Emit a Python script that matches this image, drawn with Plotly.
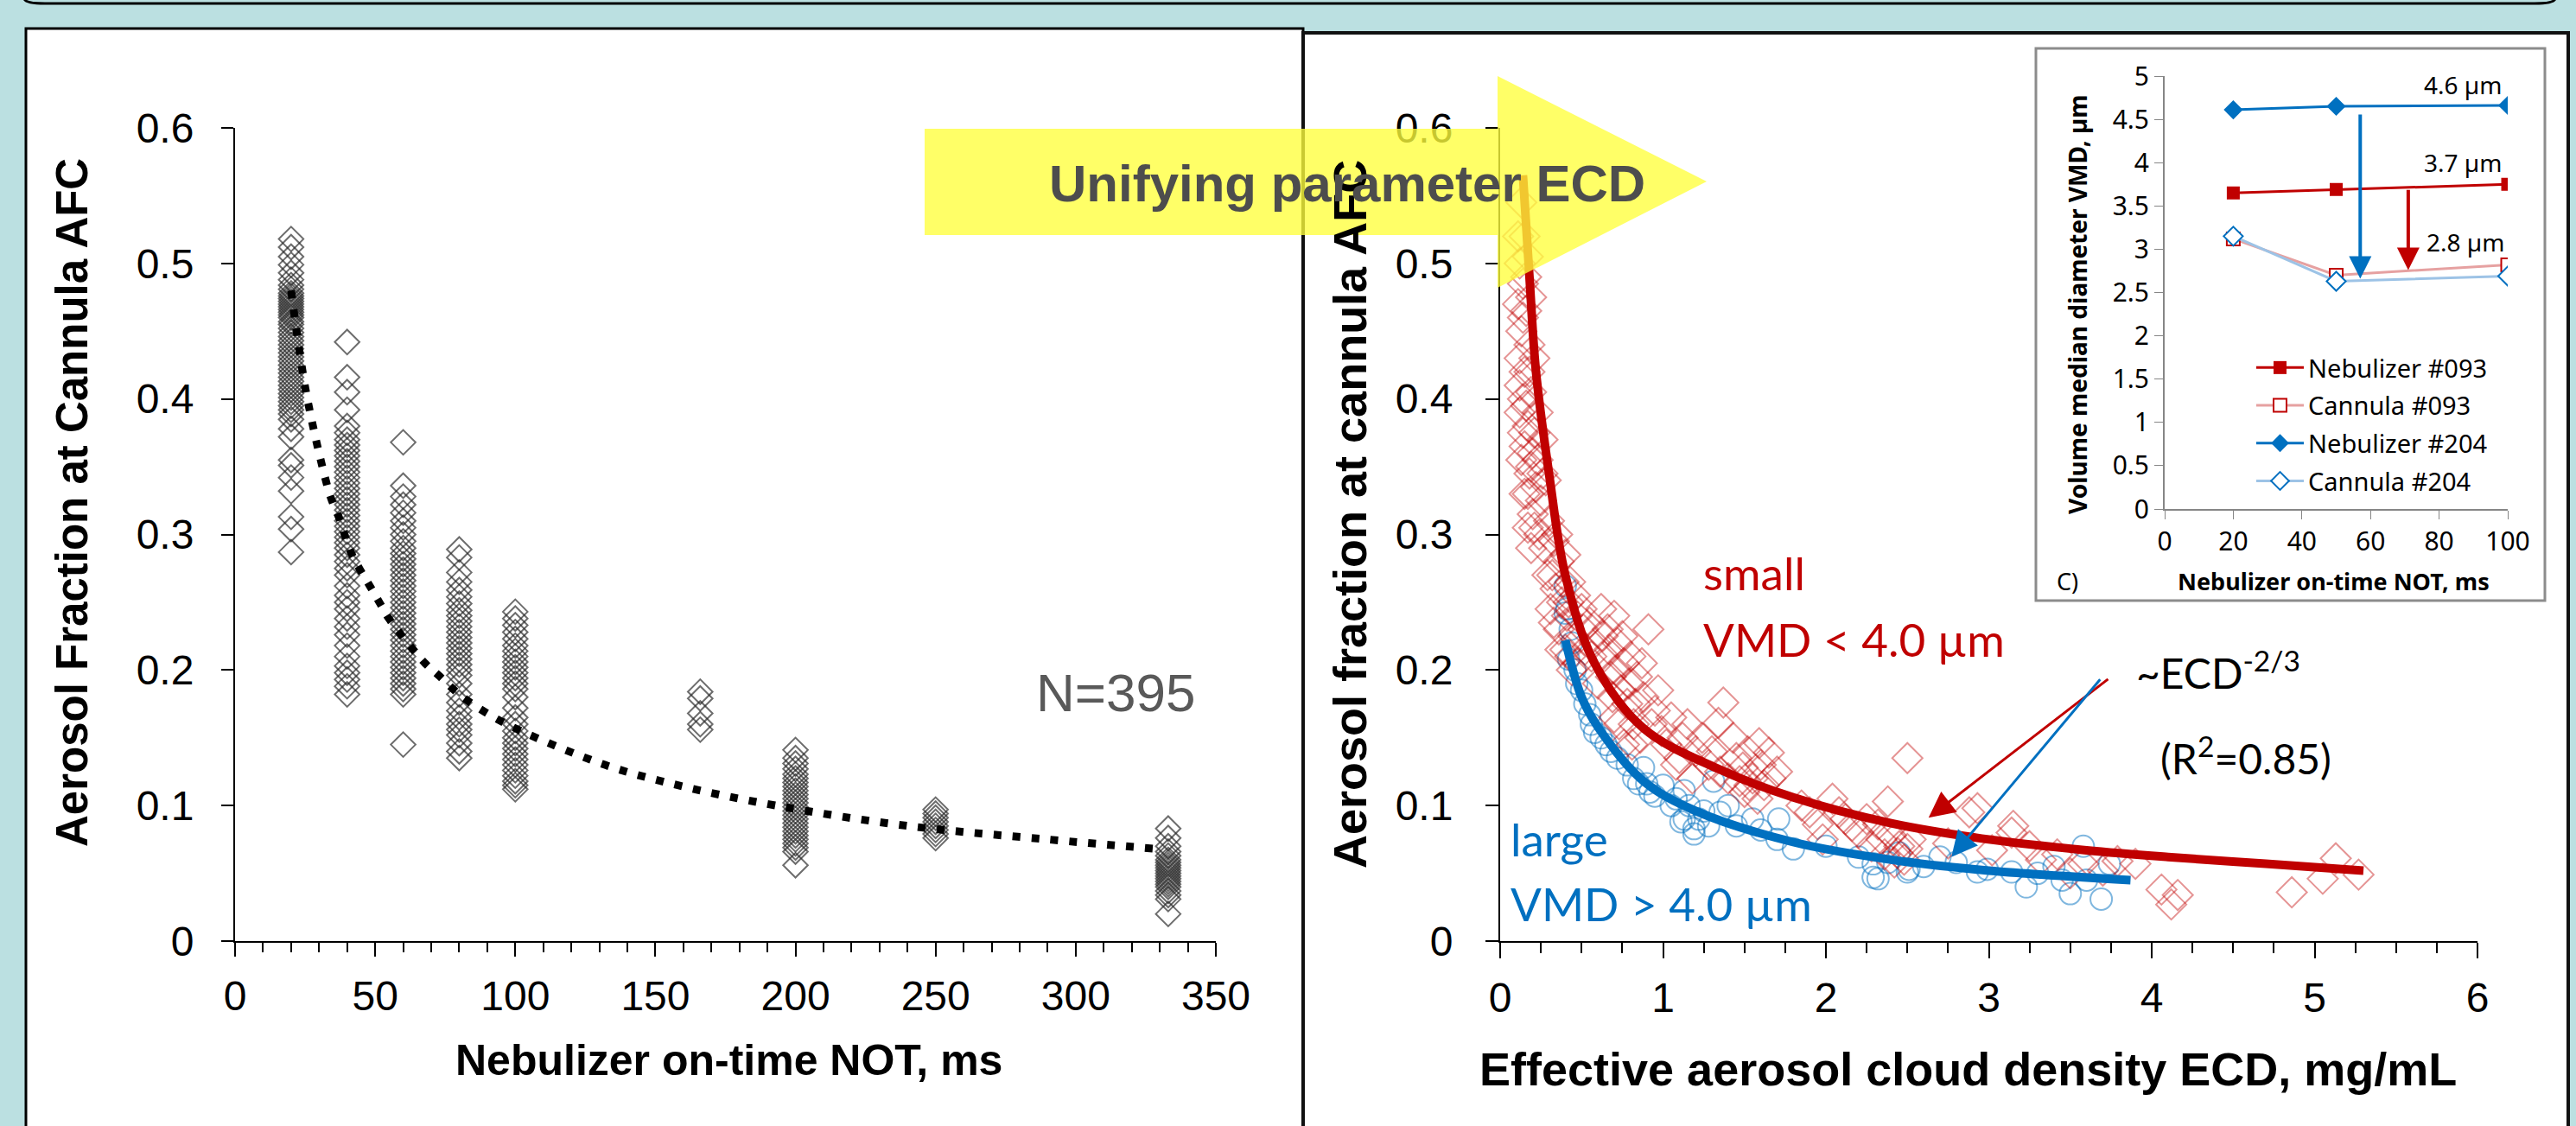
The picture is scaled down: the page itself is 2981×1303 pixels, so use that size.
import plotly.graph_objects as go

W, H = 2981, 1303
def fx(p): return p / W
def fy(p): return 1 - p / H

# ---------------- Left panel data: AFC vs nebulizer on-time ----------------
NOT_LEVELS = [20, 40, 60, 80, 100, 166, 200, 250, 333]
AFC_NOT20 = [0.518, 0.512, 0.505, 0.499, 0.493, 0.488, 0.484, 0.481, 0.478, 0.476, 0.474, 0.472,
             0.470, 0.468, 0.466, 0.464, 0.462, 0.460, 0.457, 0.455, 0.452, 0.449, 0.446, 0.443,
             0.440, 0.437, 0.434, 0.431, 0.428, 0.425, 0.422, 0.419, 0.416, 0.413, 0.410, 0.407,
             0.404, 0.401, 0.398, 0.395, 0.392, 0.389, 0.385, 0.378, 0.372, 0.355, 0.351, 0.342,
             0.332, 0.313, 0.304, 0.287]
AFC_NOT40 = [0.442, 0.416, 0.405, 0.392, 0.380, 0.375, 0.370, 0.366, 0.362, 0.358, 0.354, 0.350,
             0.346, 0.342, 0.338, 0.334, 0.330, 0.326, 0.322, 0.318, 0.314, 0.310, 0.306, 0.302,
             0.298, 0.294, 0.290, 0.285, 0.280, 0.275, 0.270, 0.262, 0.255, 0.250, 0.245, 0.238,
             0.232, 0.226, 0.218, 0.210, 0.203, 0.198, 0.193, 0.188, 0.182]
AFC_NOT60 = [0.368, 0.336, 0.328, 0.322, 0.316, 0.310, 0.305, 0.300, 0.295, 0.290, 0.286, 0.282,
             0.278, 0.274, 0.270, 0.266, 0.262, 0.258, 0.254, 0.250, 0.246, 0.242, 0.238, 0.234,
             0.230, 0.226, 0.222, 0.218, 0.214, 0.210, 0.206, 0.202, 0.198, 0.194, 0.190, 0.186,
             0.182, 0.145]
AFC_NOT80 = [0.289, 0.283, 0.272, 0.265, 0.259, 0.254, 0.249, 0.244, 0.240, 0.236, 0.232, 0.228,
             0.224, 0.220, 0.216, 0.212, 0.208, 0.204, 0.200, 0.196, 0.190, 0.182, 0.176, 0.170,
             0.165, 0.160, 0.156, 0.152, 0.146, 0.140, 0.135]
AFC_NOT100 = [0.243, 0.238, 0.233, 0.228, 0.223, 0.218, 0.214, 0.210, 0.206, 0.202, 0.198, 0.194,
              0.190, 0.186, 0.180, 0.172, 0.165, 0.160, 0.155, 0.150, 0.146, 0.142, 0.138, 0.134,
              0.130, 0.126, 0.122, 0.118, 0.115, 0.112]
AFC_NOT166 = [0.184, 0.179, 0.168, 0.160, 0.156]
AFC_NOT200 = [0.141, 0.135, 0.131, 0.127, 0.123, 0.120, 0.117, 0.114, 0.111, 0.108, 0.105, 0.102,
              0.099, 0.096, 0.093, 0.090, 0.087, 0.084, 0.081, 0.078, 0.075, 0.072, 0.069, 0.066,
              0.056]
AFC_NOT250 = [0.097, 0.094, 0.091, 0.088, 0.085, 0.082, 0.079, 0.076]
AFC_NOT333 = [0.083, 0.076, 0.070, 0.066, 0.063, 0.060, 0.058, 0.056, 0.054, 0.052, 0.050, 0.048,
              0.046, 0.044, 0.042, 0.040, 0.037, 0.034, 0.031, 0.020]
AFC_COLUMNS = [AFC_NOT20, AFC_NOT40, AFC_NOT60, AFC_NOT80, AFC_NOT100,
               AFC_NOT166, AFC_NOT200, AFC_NOT250, AFC_NOT333]

TREND_NOT = [20, 21.9, 25, 27.7, 30.8, 34.2, 37, 41.3, 44.6, 48.1, 51.5, 54.9, 63.2, 67.8, 72.7,
             80, 90, 100, 132, 160, 193, 240, 290, 329]
TREND_AFC = [0.48, 0.451, 0.409, 0.381, 0.353, 0.327, 0.313, 0.287, 0.274, 0.262, 0.25, 0.238,
             0.216, 0.205, 0.196, 0.182, 0.168, 0.157, 0.130, 0.114, 0.100, 0.085, 0.075, 0.068]

# ---------------- Right panel data: AFC vs ECD ----------------
SMALL_ECD = [0.13, 0.15, 0.12, 0.17, 0.14, 0.11, 0.16, 0.19, 0.13, 0.18, 0.12, 0.15, 0.21, 0.14,
             0.19, 0.12, 0.17, 0.23, 0.15, 0.20, 0.13, 0.26, 0.18, 0.22, 0.15, 0.25, 0.20, 0.28,
             0.17, 0.24,
             0.11, 0.16, 0.14, 0.12, 0.18, 0.16, 0.21, 0.19, 0.14, 0.23, 0.17, 0.21, 0.26, 0.19,
             0.30, 0.27, 0.33, 0.36, 0.29, 0.40, 0.34, 0.43, 0.38, 0.31, 0.46, 0.41, 0.36, 0.50,
             0.45, 0.55, 0.40, 0.52, 0.48, 0.58, 0.44,
             0.32, 0.35, 0.39, 0.42, 0.47, 0.33, 0.37, 0.51, 0.56, 0.43,
             0.62, 0.66, 0.70, 0.64, 0.72, 0.76, 0.68, 0.80, 0.74, 0.84, 0.91, 0.78, 0.88, 0.70,
             0.95, 0.82, 0.60, 0.86, 0.99, 0.76,
             0.63, 0.67, 0.71, 0.75, 0.79, 0.83, 0.87, 0.93, 0.97, 0.81, 0.69, 0.73,
             1.05, 1.12, 1.20, 1.37, 1.34, 1.59, 1.65, 1.28, 1.45, 1.49, 1.55, 1.62, 1.50, 1.40,
             1.58, 1.18, 1.70, 1.08,
             1.02, 1.10, 1.15, 1.24, 1.30, 1.43, 1.52, 1.60, 1.66, 1.53, 1.47, 1.35,
             1.90, 2.04, 1.95, 1.98, 2.12, 2.20, 2.38, 2.50, 2.32, 2.40, 2.45, 2.36, 2.48, 2.52,
             2.42, 2.28,
             1.85, 2.08, 2.16, 2.25, 2.34, 2.44, 2.50,
             2.88, 2.93, 3.15, 3.14, 3.02, 3.32, 3.42, 3.58, 3.79, 3.90, 3.70, 3.50, 2.75, 3.25,
             4.06, 4.12, 4.16, 4.86, 5.05, 5.13, 5.27]
SMALL_AFC = [0.545, 0.52, 0.50, 0.505, 0.485, 0.47, 0.465, 0.475, 0.45, 0.44, 0.43, 0.42, 0.43, 0.40,
             0.405, 0.39, 0.38, 0.39, 0.365, 0.36, 0.355, 0.37, 0.345, 0.335, 0.33, 0.325, 0.315,
             0.34, 0.305, 0.30,
             0.52, 0.49, 0.46, 0.41, 0.42, 0.395, 0.375, 0.35, 0.375, 0.355, 0.33, 0.305, 0.345, 0.29,
             0.31, 0.29, 0.295, 0.28, 0.27, 0.285, 0.26, 0.265, 0.25, 0.245, 0.255, 0.24, 0.23,
             0.245, 0.225, 0.235, 0.215, 0.215, 0.205, 0.22, 0.20,
             0.27, 0.30, 0.265, 0.25, 0.24, 0.235, 0.215, 0.23, 0.21, 0.21,
             0.245, 0.23, 0.24, 0.21, 0.22, 0.205, 0.195, 0.21, 0.185, 0.195, 0.23, 0.175, 0.18,
             0.165, 0.17, 0.16, 0.19, 0.15, 0.155, 0.145,
             0.225, 0.215, 0.20, 0.225, 0.19, 0.175, 0.205, 0.16, 0.185, 0.145, 0.18, 0.16,
             0.165, 0.15, 0.14, 0.176, 0.161, 0.146, 0.139, 0.13, 0.135, 0.128, 0.12, 0.115, 0.11,
             0.12, 0.105, 0.12, 0.125, 0.13,
             0.145, 0.135, 0.16, 0.15, 0.14, 0.15, 0.14, 0.13, 0.12, 0.115, 0.118, 0.125,
             0.095, 0.105, 0.086, 0.075, 0.09, 0.08, 0.103, 0.135, 0.086, 0.078, 0.07, 0.064, 0.06,
             0.075, 0.058, 0.07,
             0.10, 0.095, 0.085, 0.09, 0.075, 0.065, 0.068,
             0.095, 0.098, 0.085, 0.08, 0.067, 0.06, 0.064, 0.057, 0.059, 0.057, 0.052, 0.05, 0.072,
             0.07,
             0.038, 0.027, 0.034, 0.036, 0.046, 0.061, 0.049]

LARGE_ECD = [0.40, 0.41, 0.43, 0.40, 0.42, 0.47, 0.55, 0.58, 0.52, 0.65, 0.72, 0.88, 0.85, 0.95,
             0.90, 1.05, 1.13, 1.13, 1.19, 1.19, 1.25, 1.31, 1.11, 1.40, 1.55, 1.71, 1.70, 1.80,
             2.29, 2.29, 2.32, 2.38, 2.50, 2.51, 2.45, 2.70, 2.93, 2.99, 3.14, 3.23, 3.50, 3.69,
             3.74, 3.58, 3.40, 3.60,
             0.44, 0.46, 0.50, 0.56, 0.62, 0.68, 0.78, 0.82, 0.92, 1.00, 1.08, 1.16, 1.22, 1.28,
             1.35, 1.45, 1.60, 2.00, 2.20, 2.60, 2.80, 3.30, 3.45]
LARGE_AFC = [0.262, 0.245, 0.23, 0.242, 0.208, 0.19, 0.167, 0.154, 0.175, 0.145, 0.135, 0.128,
             0.116, 0.107, 0.116, 0.10, 0.111, 0.090, 0.079, 0.083, 0.096, 0.118, 0.088, 0.10,
             0.09, 0.090, 0.075, 0.068, 0.047, 0.057, 0.046, 0.058, 0.051, 0.053, 0.065, 0.062,
             0.051, 0.053, 0.051, 0.040, 0.035, 0.031, 0.057, 0.070, 0.055, 0.045,
             0.22, 0.20, 0.185, 0.16, 0.15, 0.14, 0.13, 0.12, 0.11, 0.115, 0.105, 0.10, 0.09, 0.085,
             0.095, 0.085, 0.082, 0.07, 0.062, 0.055, 0.058, 0.05, 0.045]

FIT_SMALL_ECD = [0.14, 0.18, 0.22, 0.30, 0.40, 0.58, 0.88, 1.34, 1.80, 2.40, 3.00, 3.60, 4.10, 4.70, 5.30]
FIT_SMALL_AFC = [0.565, 0.49, 0.42, 0.345, 0.27, 0.205, 0.157, 0.127, 0.106, 0.087, 0.075, 0.067, 0.062, 0.057, 0.052]
FIT_LARGE_ECD = [0.40, 0.50, 0.60, 0.88, 1.20, 1.80, 2.40, 3.00, 3.87]
FIT_LARGE_AFC = [0.222, 0.18, 0.158, 0.118, 0.096, 0.073, 0.060, 0.052, 0.045]

# ---------------- Inset data: VMD vs NOT ----------------
INSET_NOT = [20, 50, 100]
VMD_NEB_093 = [3.65, 3.69, 3.75]
VMD_CAN_093 = [3.12, 2.70, 2.82]
VMD_NEB_204 = [4.61, 4.65, 4.66]
VMD_CAN_204 = [3.15, 2.63, 2.69]

ARIAL = "Liberation Sans, Arial, sans-serif"
CALI = "Lato, Carlito, Calibri, sans-serif"
NOTO = "Noto Sans, Open Sans, sans-serif"
RED = "#c00000"
BLUE = "#0070c0"

fig = go.Figure()

# left scatter
lx, ly = [], []
for lvl, col in zip(NOT_LEVELS, AFC_COLUMNS):
    lx += [lvl] * len(col)
    ly += col
fig.add_trace(go.Scatter(x=lx, y=ly, mode="markers", xaxis="x", yaxis="y", showlegend=False,
                         marker=dict(symbol="diamond-open", size=22, color="rgba(40,40,40,0.68)",
                                     line=dict(width=2, color="rgba(40,40,40,0.68)"))))
fig.add_trace(go.Scatter(x=TREND_NOT, y=TREND_AFC, mode="lines", xaxis="x", yaxis="y", showlegend=False,
                         line=dict(color="black", width=9, dash="9px,13px", shape="spline")))

# right scatter
fig.add_trace(go.Scatter(x=LARGE_ECD, y=LARGE_AFC, mode="markers", xaxis="x2", yaxis="y2", showlegend=False,
                         marker=dict(symbol="circle-open", size=25, color="rgba(0,112,192,0.5)",
                                     line=dict(width=2, color="rgba(0,112,192,0.5)"))))
fig.add_trace(go.Scatter(x=SMALL_ECD, y=SMALL_AFC, mode="markers", xaxis="x2", yaxis="y2", showlegend=False,
                         marker=dict(symbol="diamond-open", size=27, color="rgba(192,0,0,0.42)",
                                     line=dict(width=2, color="rgba(192,0,0,0.42)"))))
fig.add_trace(go.Scatter(x=FIT_LARGE_ECD, y=FIT_LARGE_AFC, mode="lines", xaxis="x2", yaxis="y2", showlegend=False,
                         line=dict(color=BLUE, width=10, shape="spline")))
fig.add_trace(go.Scatter(x=FIT_SMALL_ECD, y=FIT_SMALL_AFC, mode="lines", xaxis="x2", yaxis="y2", showlegend=False,
                         line=dict(color=RED, width=10, shape="spline")))

# inset
inset_series = [
    ("Nebulizer #093", VMD_NEB_093, dict(color=RED, width=3), dict(symbol="square", size=15, color=RED)),
    ("Cannula #093", VMD_CAN_093, dict(color="#e6a1a1", width=3),
     dict(symbol="square", size=15, color="white", line=dict(color=RED, width=2))),
    ("Nebulizer #204", VMD_NEB_204, dict(color=BLUE, width=3), dict(symbol="diamond", size=17, color=BLUE)),
    ("Cannula #204", VMD_CAN_204, dict(color="#9dc3e6", width=3),
     dict(symbol="diamond", size=17, color="white", line=dict(color=BLUE, width=2))),
]
for i, (nm, vals, ln, mk) in enumerate(inset_series):
    fig.add_trace(go.Scatter(x=INSET_NOT, y=vals, name=nm, mode="lines+markers", xaxis="x3", yaxis="y3",
                             legendgroup=f"g{i}", line=ln, marker=mk))

ydom = [fy(1089), fy(148)]
main_tick = dict(ticks="outside", tickcolor="black", tickwidth=2, showline=True, linecolor="black",
                 linewidth=2, showgrid=False, zeroline=False, automargin=False,
                 tickfont=dict(family=ARIAL, size=48, color="black"))
inset_tick = dict(ticks="outside", ticklen=10, tickcolor="#868686", showline=True, linecolor="#868686",
                  linewidth=2, showgrid=False, zeroline=False, automargin=False,
                  tickfont=dict(family=NOTO, size=30, color="black"))

fig.update_layout(
    width=W, height=H, margin=dict(l=0, r=0, t=0, b=0, pad=0), autosize=False,
    paper_bgcolor="#bbe0e1", plot_bgcolor="rgba(0,0,0,0)",
    xaxis=dict(domain=[fx(272), fx(1407)], range=[0, 350], anchor="y", dtick=50, ticklen=16,
               minor=dict(dtick=10, ticklen=11, ticks="outside", tickcolor="black", tickwidth=2),
               ticklabelstandoff=4, **main_tick),
    yaxis=dict(domain=ydom, range=[0, 0.6], anchor="x", dtick=0.1, ticklen=14, ticklabelstandoff=22,
               **main_tick),
    xaxis2=dict(domain=[fx(1736), fx(2867)], range=[0, 6], anchor="y2", dtick=1, ticklen=18,
                minor=dict(dtick=0.25, ticklen=12, ticks="outside", tickcolor="black", tickwidth=2),
                ticklabelstandoff=4, **main_tick),
    yaxis2=dict(domain=ydom, range=[0, 0.6], anchor="x2", dtick=0.1, ticklen=15, ticklabelstandoff=28,
                **main_tick),
    xaxis3=dict(domain=[fx(2505), fx(2902)], range=[0, 100], anchor="y3", dtick=20, **inset_tick),
    yaxis3=dict(domain=[fy(589), fy(88)], range=[0, 5], anchor="x3", dtick=0.5, **inset_tick),
    legend=dict(x=fx(2606), y=fy(400), xanchor="left", yanchor="top", bgcolor="rgba(0,0,0,0)",
                font=dict(family=NOTO, size=29, color="black"), itemwidth=55, tracegroupgap=3),
    showlegend=True,
)

shapes = [
    dict(type="path", xref="paper", yref="paper", layer="below",
         path=f"M {fx(28)},{fy(-2)} Q {fx(28)},{fy(4)} {fx(52)},{fy(4)} L {fx(2933)},{fy(4)} "
              f"Q {fx(2957)},{fy(4)} {fx(2957)},{fy(-2)}",
         line=dict(color="black", width=3)),
    dict(type="rect", xref="paper", yref="paper", layer="below",
         x0=fx(30), x1=fx(1508), y0=fy(1330), y1=fy(33), fillcolor="white", line=dict(color="black", width=3)),
    dict(type="rect", xref="paper", yref="paper", layer="below",
         x0=fx(1508), x1=fx(2972), y0=fy(1330), y1=fy(38), fillcolor="white", line=dict(color="#111", width=4)),
    dict(type="rect", xref="paper", yref="paper", layer="below",
         x0=fx(2356), x1=fx(2945), y0=fy(695), y1=fy(56), fillcolor="white", line=dict(color="#8c8c8c", width=3)),
    dict(type="path", xref="paper", yref="paper", layer="above",
         path=f"M {fx(1070)},{fy(149)} L {fx(1733)},{fy(149)} L {fx(1733)},{fy(88)} L {fx(1975)},{fy(210)} "
              f"L {fx(1733)},{fy(333)} L {fx(1733)},{fy(272)} L {fx(1070)},{fy(272)} Z",
         fillcolor="rgba(255,255,60,0.78)", line=dict(width=0)),
]
fig.update_layout(shapes=shapes)

def ann(text, x, y, size, color="black", family=ARIAL, bold=False, angle=0, xanchor="center", yanchor="middle"):
    t = f"<b>{text}</b>" if bold else text
    return dict(text=t, x=fx(x), y=fy(y), xref="paper", yref="paper", showarrow=False,
                xanchor=xanchor, yanchor=yanchor, textangle=angle,
                font=dict(family=family, size=size, color=color))

annotations = [
    ann("Aerosol Fraction at Cannula AFC", 83, 582, 51, bold=True, angle=-90),
    ann("Nebulizer on-time NOT, ms", 843, 1227, 50, bold=True),
    ann("N=395", 1197, 801, 62, color="#595959", xanchor="left"),
    ann("Aerosol fraction at cannula AFC", 1562, 595, 54, bold=True, angle=-90),
    ann("Effective aerosol cloud density ECD, mg/mL", 2277, 1237, 54, bold=True),
    ann("Unifying parameter ECD", 1559, 213, 60, color="#4d4d4d", bold=True),
    ann("small", 1969, 662, 53, color=RED, family=CALI, xanchor="left"),
    ann("VMD &lt; 4.0 µm", 1969, 739, 53, color=RED, family=CALI, xanchor="left"),
    ann("large", 1746, 970, 53, color=BLUE, family=CALI, xanchor="left"),
    ann("VMD &gt; 4.0 µm", 1746, 1045, 53, color=BLUE, family=CALI, xanchor="left"),
    ann("~ECD<sup>-2/3</sup>", 2470, 775, 48, family=CALI, xanchor="left"),
    ann("(R<sup>2</sup>=0.85)", 2498, 874, 48, family=CALI, xanchor="left"),
    ann("C)", 2378, 672, 27, family=NOTO, xanchor="left"),
    ann("Volume median diameter VMD, µm", 2404, 352, 28, bold=True, family=NOTO, angle=-90),
    ann("Nebulizer on-time NOT, ms", 2700, 672, 27, bold=True, family=NOTO),
]
for txt, xv, yv in [("4.6 µm", 87, 4.9), ("3.7 µm", 87, 4.0), ("2.8 µm", 87.7, 3.08)]:
    annotations.append(dict(text=txt, x=xv, y=yv, xref="x3", yref="y3", showarrow=False,
                            font=dict(family=NOTO, size=28, color="black")))
for xv, y0, y1, c in [(57, 4.57, 2.66, BLUE), (71, 3.70, 2.76, RED)]:
    annotations.append(dict(text="", x=xv, y=y1, ax=xv, ay=y0, xref="x3", yref="y3", axref="x3", ayref="y3",
                            showarrow=True, arrowhead=2, arrowsize=1.3, arrowwidth=4, arrowcolor=c))
for hx, hy, tx, ty, c in [(2.63, 0.091, 3.74, 0.194, RED), (2.77, 0.062, 3.69, 0.194, BLUE)]:
    annotations.append(dict(text="", x=hx, y=hy, ax=tx, ay=ty, xref="x2", yref="y2", axref="x2", ayref="y2",
                            showarrow=True, arrowhead=2, arrowsize=2, arrowwidth=3, arrowcolor=c))
fig.update_layout(annotations=annotations)

fig.write_html("out.html", config={"displayModeBar": False},
               post_script="document.body.style.margin='0';document.body.style.overflow='hidden';")
